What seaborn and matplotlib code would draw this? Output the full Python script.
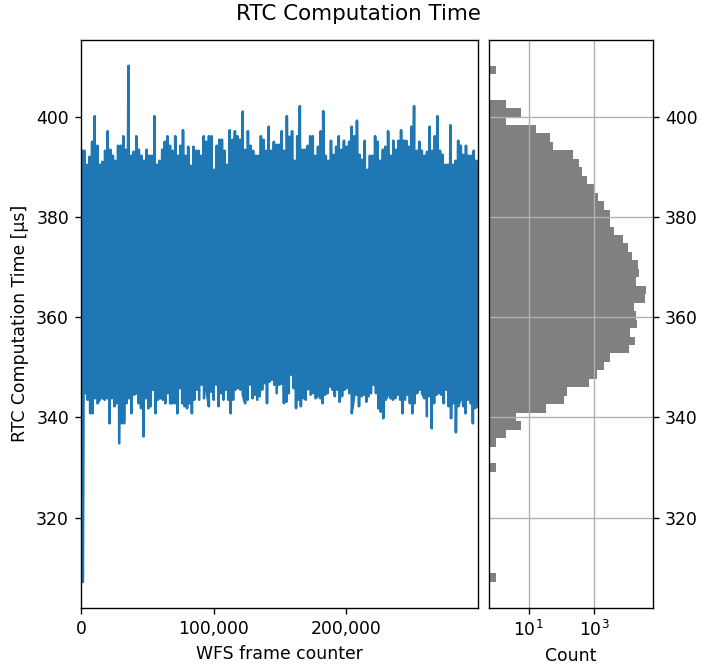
import numpy as np
import pandas as pd
import matplotlib
matplotlib.use("Agg")
import matplotlib.pyplot as plt
from matplotlib.ticker import FuncFormatter, FixedLocator, NullLocator
import seaborn as sns

# ---------------- data ----------------
n_frames = 300000

# upper envelope of the time trace (µs), left half then right half
upper_a = [393.2, 393.2, 390.4, 392.0, 395.0, 400.1, 394.2, 390.4, 391.0, 393.2,
           397.1, 393.4, 392.2, 391.2, 394.2, 394.2, 396.1, 393.4, 410.15, 392.2,
           393.0, 396.1, 393.4, 392.2, 391.2, 393.4, 392.2, 392.2, 400.1, 390.4,
           391.2, 393.4, 395.0, 396.1, 394.2, 393.2, 396.1, 392.2, 394.2, 397.3,
           392.2, 394.0, 390.2, 394.0, 393.2, 393.2, 392.2, 396.1, 395.0, 396.1,
           396.1, 389.4, 394.2, 395.4, 395.4, 393.2, 390.4, 397.3, 395.4, 397.1,
           396.1, 395.4, 401.0, 393.4, 397.1, 394.2, 393.2, 392.2, 392.2, 396.1,
           395.4, 393.2, 398.0, 393.2, 395.0, 394.4, 394.4]
upper_b = [397.1, 393.2, 400.1, 396.0, 397.1, 391.2, 396.1, 402.1, 393.4, 393.4,
           394.2, 396.1, 396.1, 392.2, 394.0, 397.1, 401.1, 392.2, 391.2, 395.2,
           392.4, 394.0, 396.1, 393.4, 395.2, 394.0, 395.0, 398.0, 396.1, 399.2,
           392.4, 391.4, 395.2, 389.4, 392.2, 392.2, 396.1, 395.0, 391.2, 393.4,
           394.0, 397.1, 392.2, 395.2, 393.4, 395.2, 397.3, 395.2, 395.2, 394.0,
           398.0, 402.1, 393.2, 395.0, 393.2, 392.2, 393.0, 398.0, 393.2, 396.1,
           400.1, 393.2, 392.4, 390.4, 390.4, 398.3, 390.4, 391.2, 395.2, 394.2,
           392.4, 394.2, 392.2, 392.2, 393.2, 391.2]

# lower envelope of the time trace (µs)
lower_a = [307.15, 344.8, 343.5, 340.8, 340.8, 343.8, 342.8, 343.6, 343.8, 343.5,
           343.8, 338.8, 343.8, 342.2, 342.8, 334.8, 338.8, 338.8, 342.8, 343.8,
           340.8, 344.5, 344.8, 342.8, 341.8, 336.2, 343.8, 341.8, 342.2, 345.5,
           340.8, 343.5, 343.8, 343.5, 342.8, 344.8, 342.8, 342.8, 342.8, 340.8,
           345.8, 342.8, 342.2, 341.8, 342.8, 340.8, 343.5, 345.5, 343.5, 346.5,
           343.8, 345.5, 342.2, 345.1, 343.5, 346.5, 342.2, 344.8, 343.5, 345.5,
           343.5, 340.8, 343.5, 345.5, 345.8, 345.5, 344.5, 342.8, 343.5, 346.5,
           343.8, 344.5, 343.5, 344.2, 345.5, 346.8, 342.8, 347.1, 347.5, 346.5,
           344.8]
lower_b = [346.5, 346.8, 342.8, 343.1, 344.8, 348.5, 345.8, 341.8, 343.5, 342.2,
           343.8, 343.5, 345.6, 344.5, 344.8, 343.8, 344.2, 343.8, 342.8, 344.5,
           344.8, 346.1, 345.5, 344.2, 345.5, 343.1, 344.2, 345.5, 345.8, 344.8,
           340.8, 344.2, 344.5, 342.2, 344.2, 344.5, 343.1, 344.2, 344.8, 346.5,
           344.8, 341.8, 341.1, 339.8, 343.5, 344.5, 343.8, 343.5, 343.8, 344.5,
           343.5, 340.8, 343.5, 344.5, 342.8, 340.8, 342.8, 344.8, 345.5, 344.8,
           343.8, 340.2, 344.2, 337.8, 342.8, 344.5, 344.8, 344.5, 342.8, 345.5,
           342.2, 339.8, 342.8, 337.0, 342.2, 343.8, 342.2, 340.8, 343.5, 342.8,
           338.8, 341.8, 342.2]

# histogram of computation time (counts per bin, bottom bin first)
hist_counts = [1, 0, 0, 0, 0, 0, 0, 0, 0, 0,
               0, 0, 0, 1, 0, 0, 1, 2, 6, 4,
               34, 122, 151, 708, 1245, 2040, 3030, 11500, 17600, 12700,
               19900, 18900, 16400, 35500, 37200, 18500, 23800, 21300, 13960, 10500,
               7700, 4090, 2960, 3030, 2000, 1280, 1000, 590, 418, 344,
               229, 56, 46, 17, 2, 6, 2, 0, 0, 0,
               1]
hist_range = (307.15, 410.15)

x_ticks = [0, 100000, 200000]
y_ticks = [320, 340, 360, 380, 400]
count_ticks = [10, 1000]

title = "RTC Computation Time"
xlabel = "WFS frame counter"
ylabel = "RTC Computation Time [µs]"
count_label = "Count"

# ---------------- build tables ----------------
upper = np.array(upper_a + upper_b)
lower = np.array(lower_a + lower_b)
fu = (np.arange(len(upper)) + 0.25) * n_frames / len(upper)
fl = (np.arange(len(lower)) + 0.75) * n_frames / len(lower)
trace = pd.DataFrame({
    "frame": np.concatenate([fu, fl]),
    "time": np.concatenate([upper, lower]),
}).sort_values("frame", kind="mergesort").reset_index(drop=True)

n_bins = len(hist_counts)
width = (hist_range[1] - hist_range[0]) / n_bins
centers = hist_range[0] + width * (np.arange(n_bins) + 0.5)
hist_df = pd.DataFrame({"time": centers, "count": hist_counts})

# ---------------- figure ----------------
DPI = 124
fig = plt.figure(figsize=(703 / DPI, 671 / DPI), dpi=DPI)
ax1 = fig.add_axes([81.1 / 703, 63.3 / 671, (478.3 - 81.1) / 703, (607.7 - 40) / 671])
ax2 = fig.add_axes([488.5 / 703, 63.3 / 671, (653 - 488.5) / 703, (607.7 - 40) / 671],
                   sharey=ax1)

sns.lineplot(data=trace, x="frame", y="time", ax=ax1, color="#1f77b4",
             linewidth=1.5, estimator=None, sort=False)
ax1.set_xlim(0, n_frames - 1)
ax1.set_ylim(302.0, 415.3)
ax1.xaxis.set_major_locator(FixedLocator(x_ticks))
ax1.xaxis.set_major_formatter(FuncFormatter(lambda v, p: f"{int(v):,}"))
ax1.yaxis.set_major_locator(FixedLocator(y_ticks))
ax1.set_xlabel(xlabel)
ax1.set_ylabel(ylabel)

sns.histplot(data=hist_df, y="time", weights="count", bins=n_bins,
             binrange=hist_range, ax=ax2,
             color="grey", alpha=1.0, edgecolor="none", linewidth=0)
ax2.set_xscale("log")
ax2.set_xlim(10 ** -0.228, 10 ** 4.795)
ax2.xaxis.set_major_locator(FixedLocator(count_ticks))
ax2.xaxis.set_minor_locator(NullLocator())
ax2.yaxis.tick_right()
ax2.tick_params(axis="y", labelleft=False, labelright=True)
ax2.grid(True, which="major")
ax2.set_xlabel(count_label)
ax2.set_ylabel("")
ax2.set_ylim(302.0, 415.3)

fig.suptitle(title, x=358.5 / 703, y=1 - 20.5 / 671, va="baseline", fontsize=12.4)

fig.savefig("out.png", dpi=DPI)
